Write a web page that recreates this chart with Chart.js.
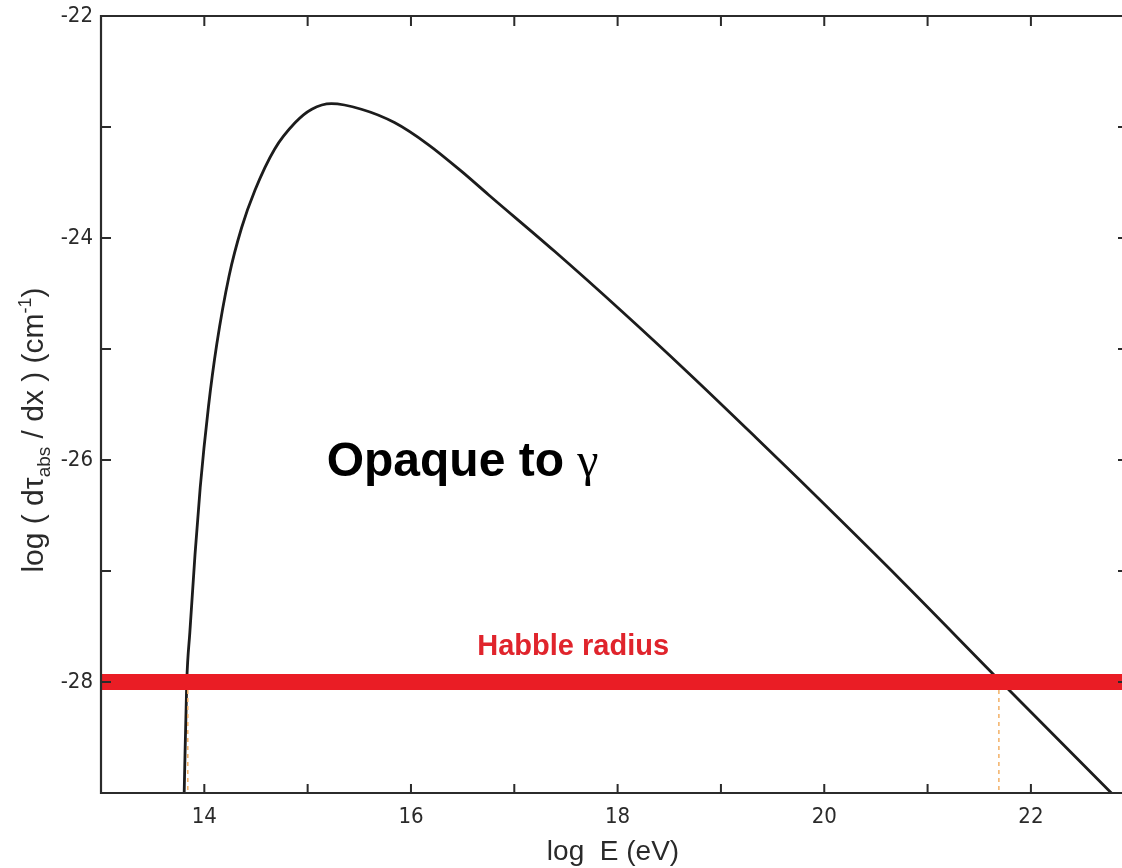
<!DOCTYPE html>
<html>
<head>
<meta charset="utf-8">
<title>Absorption length vs energy</title>
<script src="https://cdn.jsdelivr.net/npm/chart.js@4.4.0/dist/chart.umd.min.js"></script>
<style>
  html, body { margin: 0; padding: 0; background: #fff; overflow: hidden; }
  #wrap { width: 1130px; height: 868px; }
</style>
</head>
<body>
<div id="wrap"><canvas id="chart" width="1130" height="868"></canvas></div>
<script>
// absorption curve: log E (eV) vs log(dτ_abs/dx) (cm^-1)
const logE = [13.805, 13.83, 13.86, 13.91, 13.96, 14.04, 14.12, 14.24, 14.36, 14.49, 14.68, 14.88, 15.04,
  15.23, 15.52, 15.84, 16.17, 16.49, 16.75, 17.39, 18.04, 18.69, 19.33, 19.75, 20.75, 21.69, 22.80];
const logTau = [-29.0, -28.0, -27.55, -26.85, -26.25, -25.52, -24.96, -24.34, -23.91, -23.57, -23.20, -22.96, -22.84,
  -22.79, -22.84, -22.96, -23.16, -23.40, -23.61, -24.12, -24.66, -25.22, -25.79, -26.17, -27.09, -27.98, -29.02];

// Hubble radius level and where the curve crosses it
const habbleLevel = -28;
const crossings = [13.84, 21.69];

// axis ranges and ticks
const xRange = [13, 22.93];
const yRange = [-29, -22];
const xTicks = [14, 15, 16, 17, 18, 19, 20, 21, 22];
const xTickLabels = [14, 16, 18, 20, 22];
const yTicks = [-22, -23, -24, -25, -26, -27, -28, -29];
const yTickLabels = [-22, -24, -26, -28];

const AXIS = '#2b2b2b';
const NARROW = '"Liberation Sans Narrow", "DejaVu Sans Condensed", "Liberation Sans", Arial, sans-serif';
const SANS = '"Liberation Sans", Arial, sans-serif';

// frame, inward ticks, labels and annotations
const framePlugin = {
  id: 'frame',
  afterDraw(chart) {
    const { ctx, chartArea: a, scales: { x, y } } = chart;
    ctx.save();
    ctx.strokeStyle = AXIS;
    ctx.lineWidth = 2.2;
    ctx.beginPath();
    ctx.moveTo(a.left, a.top); ctx.lineTo(a.right, a.top);
    ctx.lineTo(a.right, a.bottom); ctx.lineTo(a.left, a.bottom);
    ctx.closePath();
    ctx.stroke();

    ctx.lineWidth = 2;
    xTicks.forEach(v => {
      const px = x.getPixelForValue(v);
      ctx.beginPath();
      ctx.moveTo(px, a.bottom); ctx.lineTo(px, a.bottom - 9);
      ctx.moveTo(px, a.top); ctx.lineTo(px, a.top + 10);
      ctx.stroke();
    });
    yTicks.forEach(v => {
      const py = y.getPixelForValue(v);
      ctx.beginPath();
      ctx.moveTo(a.left, py); ctx.lineTo(a.left + 10, py);
      ctx.moveTo(a.right, py); ctx.lineTo(a.right - 9, py);
      ctx.stroke();
    });

    // tick labels
    ctx.fillStyle = '#2a2a2a';
    ctx.font = '22px ' + NARROW;
    ctx.textAlign = 'center';
    ctx.textBaseline = 'middle';
    xTickLabels.forEach(v => ctx.fillText(String(v), x.getPixelForValue(v), a.bottom + 24));
    ctx.textAlign = 'right';
    yTickLabels.forEach(v => ctx.fillText('-' + Math.abs(v), a.left - 8, y.getPixelForValue(v)));

    // x axis title
    ctx.font = '28px ' + SANS;
    ctx.textAlign = 'center';
    ctx.textBaseline = 'alphabetic';
    ctx.fillText('log  E (eV)', 613, 860);

    // y axis title with subscript and superscript
    const parts = [
      { t: 'log ( dτ', f: '30px ' + SANS, dy: 0 },
      { t: 'abs', f: '19px ' + SANS, dy: 7 },
      { t: ' / dx ) (cm', f: '30px ' + SANS, dy: 0 },
      { t: '-1', f: '18px ' + SANS, dy: -12 },
      { t: ')', f: '30px ' + SANS, dy: 0 }
    ];
    let total = 0;
    parts.forEach(p => { ctx.font = p.f; p.w = ctx.measureText(p.t).width; total += p.w; });
    ctx.save();
    ctx.translate(43, 430);
    ctx.rotate(-Math.PI / 2);
    ctx.textAlign = 'left';
    let cx = -total / 2;
    parts.forEach(p => { ctx.font = p.f; ctx.fillText(p.t, cx, p.dy); cx += p.w; });
    ctx.restore();

    // annotations
    ctx.textAlign = 'left';
    ctx.fillStyle = '#000';
    const opq = 'Opaque to ';
    ctx.font = '48px "Liberation Serif", "Times New Roman", serif';
    const gw = ctx.measureText('γ').width;
    ctx.font = 'bold 48px ' + SANS;
    const ow = ctx.measureText(opq).width;
    const ox = x.getPixelForValue(16.5) - (ow + gw) / 2;
    const oy = y.getPixelForValue(-26.14);
    ctx.fillText(opq, ox, oy);
    ctx.font = '48px "Liberation Serif", "Times New Roman", serif';
    ctx.fillText('γ', ox + ow, oy);

    ctx.fillStyle = '#e0242c';
    ctx.font = 'bold 29px ' + SANS;
    ctx.textAlign = 'center';
    ctx.fillText('Habble radius', x.getPixelForValue(17.57), y.getPixelForValue(-27.76));
    ctx.restore();
  }
};

const ctx = document.getElementById('chart').getContext('2d');
new Chart(ctx, {
  type: 'line',
  data: {
    datasets: [
      {
        label: 'Habble radius',
        data: xRange.map(v => ({ x: v, y: habbleLevel })),
        borderColor: '#ea1d25',
        borderWidth: 16,
        borderCapStyle: 'butt',
        pointRadius: 0
      },
      ...crossings.map(c => ({
        label: 'crossing',
        data: [{ x: c, y: habbleLevel }, { x: c, y: yRange[0] }],
        borderColor: '#f3b066',
        borderWidth: 1.5,
        borderDash: [4, 4],
        pointRadius: 0
      })),
      {
        label: 'dτ/dx',
        data: logE.map((v, i) => ({ x: v, y: logTau[i] })),
        borderColor: '#1c1c1c',
        borderWidth: 2.8,
        pointRadius: 0,
        cubicInterpolationMode: 'monotone'
      }
    ]
  },
  options: {
    responsive: false,
    animation: false,
    layout: { padding: { left: 101, top: 16, right: 3, bottom: 75 } },
    plugins: { legend: { display: false }, tooltip: { enabled: false } },
    scales: {
      x: { type: 'linear', min: xRange[0], max: xRange[1], display: false },
      y: { type: 'linear', min: yRange[0], max: yRange[1], display: false }
    }
  },
  plugins: [framePlugin]
});
</script>
</body>
</html>
